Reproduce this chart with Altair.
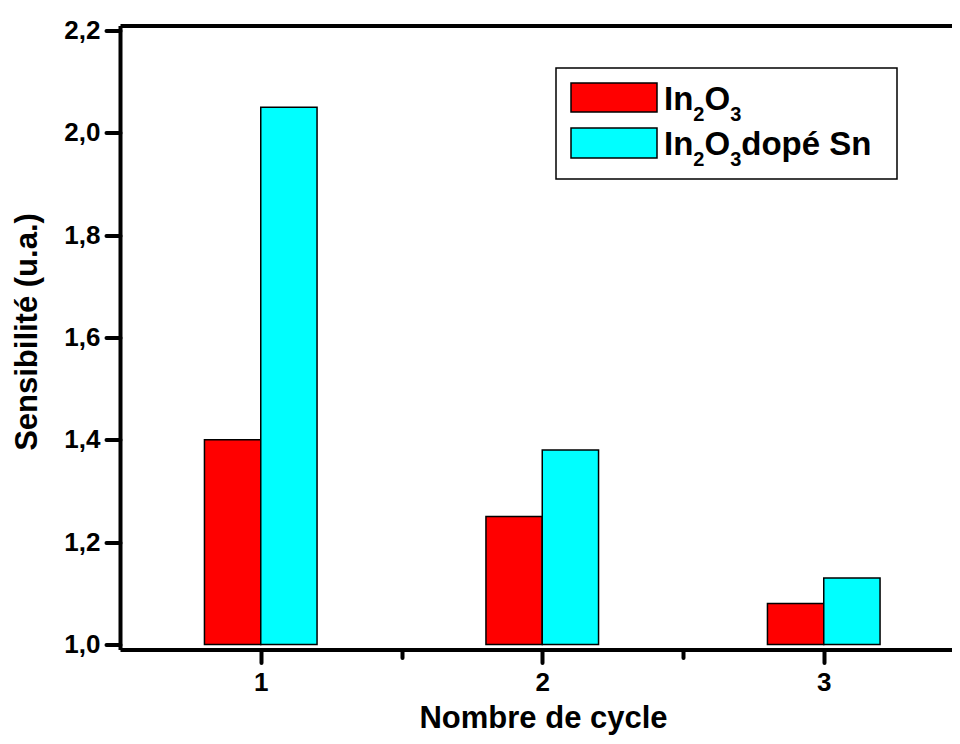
import altair as alt
import pandas as pd

# ---- data ----
cycles = [1, 2, 3]
in2o3 = [1.40, 1.25, 1.08]
in2o3_sn = [2.05, 1.38, 1.13]
series_names = ["In2O3", "In2O3 dopé Sn"]
series_colors = ["#ff0000", "#00ffff"]
y_ticks = [1.0, 1.2, 1.4, 1.6, 1.8, 2.0, 2.2]
x_ticks = [1, 1.5, 2, 2.5, 3]

rows = []
for c, a, b in zip(cycles, in2o3, in2o3_sn):
    rows.append({"cycle": c, "series": series_names[0], "value": a})
    rows.append({"cycle": c, "series": series_names[1], "value": b})
df = pd.DataFrame(rows)

FONT = "Liberation Sans"
W, H = 832, 624
BW = 0.2  # bar width in x units

base = alt.Chart(df).transform_calculate(
    x0=f"datum.cycle + (datum.series == '{series_names[0]}' ? -{BW} : 0)",
    x1=f"datum.cycle + (datum.series == '{series_names[0]}' ? 0 : {BW})",
)

xscale = alt.Scale(domain=[0.5, 0.5 + W / 281.5], nice=False, zero=False)
yscale = alt.Scale(domain=[1.0, 2.2], nice=False, zero=False)

bars = base.mark_bar(stroke="black", strokeWidth=1.5).encode(
    x=alt.X("x0:Q", scale=xscale, axis=alt.Axis(
        orient="bottom", values=x_ticks, grid=False,
        labelExpr="datum.value % 1 == 0 ? format(datum.value, 'd') : ''",
        tickSize={"condition": {"test": "datum.value % 1 != 0", "value": 8}, "value": 13},
        tickWidth=4, tickColor="black", tickCap="round",
        domainWidth=4, domainColor="black",
        labelFont=FONT, labelFontSize=26, labelFontWeight="bold", labelColor="black",
        labelPadding=7,
        title="Nombre de cycle", titleFont=FONT, titleFontSize=31, titleFontWeight="bold",
        titleColor="black", titleX=423, titleY=78, titleBaseline="alphabetic",
        titleAlign="center", titleAnchor=None,
    )),
    x2="x1:Q",
    y=alt.Y("value:Q", scale=yscale, axis=alt.Axis(
        orient="left", values=y_ticks, grid=False,
        labelExpr="replace(format(datum.value, '.1f'), '.', ',')",
        tickSize=14, tickWidth=4, tickColor="black", tickCap="round",
        domainWidth=4, domainColor="black",
        labelFont=FONT, labelFontSize=26, labelFontWeight="bold", labelColor="black",
        labelPadding=6,
        title="Sensibilité (u.a.)", titleFont=FONT, titleFontSize=31, titleFontWeight="bold",
        titleColor="black", titleAngle=-90, titleX=-84, titleY=306,
        titleBaseline="alphabetic", titleAlign="center",
    )),
    y2=alt.datum(1.0),
    color=alt.Color("series:N", scale=alt.Scale(domain=series_names, range=series_colors), legend=None),
)

top_axis = base.mark_bar(opacity=0).encode(
    x=alt.X("x0:Q", scale=xscale, axis=alt.Axis(
        orient="top", labels=False, ticks=False, grid=False, title=None,
        domainWidth=4, domainColor="black")),
    x2="x1:Q",
    y=alt.Y("value:Q", scale=yscale),
)

# ---- legend (drawn by hand to allow subscripts) ----
leg = alt.Chart(pd.DataFrame({"k": [0]}))
box = leg.mark_rect(fill="white", stroke="black", strokeWidth=1.5).encode(
    x=alt.value(436), x2=alt.value(777), y=alt.value(42.5), y2=alt.value(153.5))
sw1 = leg.mark_rect(fill=series_colors[0], stroke="black", strokeWidth=1.5).encode(
    x=alt.value(451), x2=alt.value(537), y=alt.value(57.5), y2=alt.value(86.5))
sw2 = leg.mark_rect(fill=series_colors[1], stroke="black", strokeWidth=1.5).encode(
    x=alt.value(451), x2=alt.value(537), y=alt.value(102.5), y2=alt.value(132.5))

BIG, SMALL = 33, 20
def piece(txt, x, y, size):
    return leg.mark_text(font=FONT, fontSize=size, fontWeight="bold", color="black",
                         align="left", baseline="alphabetic").encode(
        x=alt.value(x), y=alt.value(y), text=alt.value(txt))

def formula_row(yb, tail):
    x = 544
    layers = []
    layers.append(piece("In", x, yb, BIG)); x += (0.278 + 0.611) * BIG
    layers.append(piece("2", x, yb + 11, SMALL)); x += 0.556 * SMALL
    layers.append(piece("O", x, yb, BIG)); x += 0.778 * BIG
    layers.append(piece("3", x, yb + 11, SMALL)); x += 0.556 * SMALL
    if tail:
        layers.append(piece(tail, x, yb, BIG))
    return layers

legend_layers = [box, sw1, sw2] + formula_row(84.5, None) + formula_row(129.5, "dopé Sn")

chart = alt.layer(bars, top_axis, *legend_layers).resolve_axis(x="independent").properties(
    width=W, height=H,
    autosize=alt.AutoSizeParams(type="none"),
    padding={"left": 112, "top": 17.5, "right": 0, "bottom": 86.5},
).configure_view(stroke=None).configure(background="white")

chart.save("out.html", embed_options={"renderer": "svg", "actions": False})
